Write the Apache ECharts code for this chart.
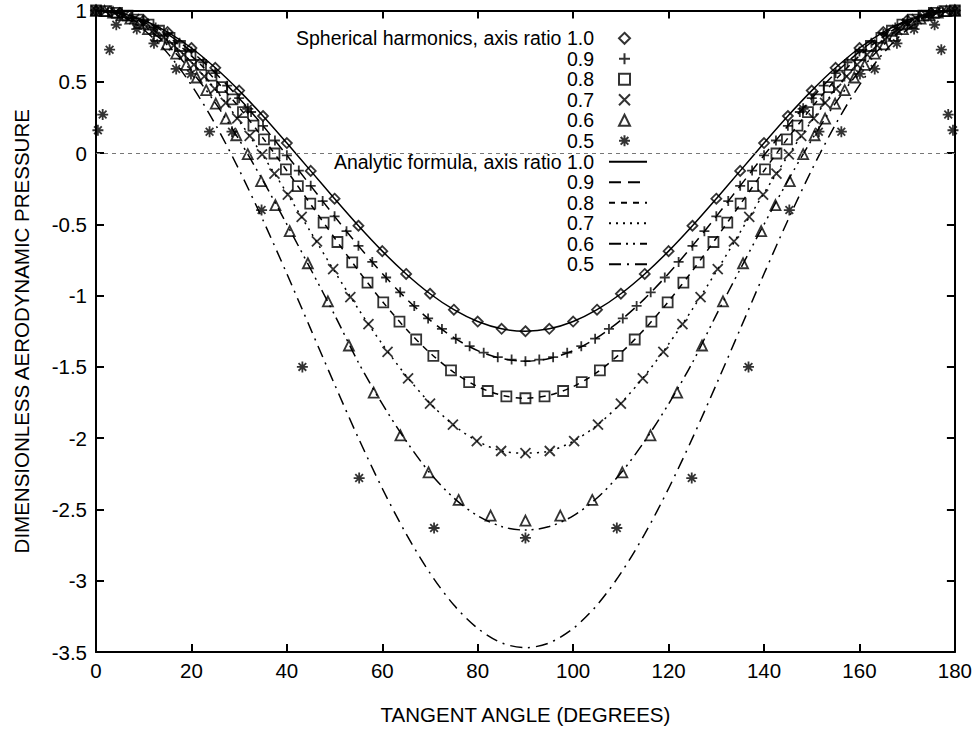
<!DOCTYPE html>
<html>
<head>
<meta charset="utf-8">
<script src="https://cdn.jsdelivr.net/npm/echarts/dist/echarts.min.js"></script>
<style>
  html, body { margin: 0; padding: 0; background: #fff; }
  #chart { width: 975px; height: 733px; }
</style>
</head>
<body>
<div id="chart"></div>
<script>
// tangent angles used for the analytic curves (degrees)
const angles = [0, 5, 10, 15, 20, 25, 30, 35, 40, 45, 50, 55, 60, 65, 70, 75, 80, 85, 90,
  95, 100, 105, 110, 115, 120, 125, 130, 135, 140, 145, 150, 155, 160, 165, 170, 175, 180]

// analytic formula, one array per axis ratio
const curve10 = [1, 0.983, 0.932, 0.849, 0.737, 0.598, 0.438, 0.260, 0.070, -0.125, -0.320, -0.510, -0.688, -0.848, -0.987, -1.099, -1.182, -1.233, -1.25,
  -1.233, -1.182, -1.099, -0.987, -0.848, -0.688, -0.510, -0.320, -0.125, 0.070, 0.260, 0.438, 0.598, 0.737, 0.849, 0.932, 0.983, 1]
const curve09 = [1, 0.981, 0.926, 0.835, 0.712, 0.561, 0.385, 0.191, -0.016, -0.230, -0.444, -0.651, -0.845, -1.021, -1.172, -1.295, -1.386, -1.441, -1.46,
  -1.441, -1.386, -1.295, -1.172, -1.021, -0.845, -0.651, -0.444, -0.230, -0.016, 0.191, 0.385, 0.561, 0.712, 0.835, 0.926, 0.981, 1]
const curve08 = [1, 0.979, 0.918, 0.818, 0.682, 0.514, 0.320, 0.105, -0.124, -0.360, -0.596, -0.825, -1.040, -1.234, -1.402, -1.538, -1.638, -1.699, -1.72,
  -1.699, -1.638, -1.538, -1.402, -1.234, -1.040, -0.825, -0.596, -0.360, -0.124, 0.105, 0.320, 0.514, 0.682, 0.818, 0.918, 0.979, 1]
const curve07 = [1, 0.976, 0.907, 0.792, 0.637, 0.446, 0.225, -0.020, -0.281, -0.555, -0.830, -1.095, -1.340, -1.562, -1.755, -1.910, -2.022, -2.090, -2.105,
  -2.090, -2.022, -1.910, -1.755, -1.562, -1.340, -1.095, -0.830, -0.555, -0.281, -0.020, 0.225, 0.446, 0.637, 0.792, 0.907, 0.976, 1]
const curve06 = [1, 0.972, 0.891, 0.757, 0.575, 0.352, 0.093, -0.194, -0.500, -0.815, -1.135, -1.470, -1.760, -2.020, -2.245, -2.420, -2.545, -2.620, -2.645,
  -2.620, -2.545, -2.420, -2.245, -2.020, -1.760, -1.470, -1.135, -0.815, -0.500, -0.194, 0.093, 0.352, 0.575, 0.757, 0.891, 0.972, 1]
const curve05 = [1, 0.966, 0.865, 0.701, 0.477, 0.202, -0.118, -0.471, -0.847, -1.235, -1.623, -2.000, -2.353, -2.672, -2.947, -3.171, -3.335, -3.436, -3.47,
  -3.436, -3.335, -3.171, -2.947, -2.672, -2.353, -2.000, -1.623, -1.235, -0.847, -0.471, -0.118, 0.202, 0.477, 0.701, 0.865, 0.966, 1]

// spherical harmonics points
const sh10X = angles
const sh10Y = [1, 0.983, 0.932, 0.849, 0.737, 0.598, 0.438, 0.260, 0.070, -0.125, -0.320, -0.510, -0.688, -0.848, -0.987, -1.099, -1.182, -1.233, -1.25,
  -1.233, -1.182, -1.099, -0.987, -0.848, -0.688, -0.510, -0.320, -0.125, 0.070, 0.260, 0.438, 0.598, 0.737, 0.849, 0.932, 0.983, 1]

const sh09X = [0, 2.5, 5, 7.5, 10, 12.5, 15, 17.5, 20, 22.5, 25, 27.5, 30, 32.5, 35, 37.5, 40, 42.5, 45, 47.5, 50, 52.5, 55,
  57.9, 60.8, 63.75, 66.7, 69.6, 72.5, 75.4, 78.3, 81.25, 84.2, 87.1, 90,
  92.9, 95.8, 98.75, 101.7, 104.6, 107.5, 110.4, 113.3, 116.25, 119.2, 122.1, 125,
  127.5, 130, 132.5, 135, 137.5, 140, 142.5, 145, 147.5, 150, 152.5, 155, 157.5, 160, 162.5, 165, 167.5, 170, 172.5, 175, 177.5, 180]
const sh09Y = [1, 0.99, 0.981, 0.954, 0.926, 0.881, 0.835, 0.774, 0.712, 0.637, 0.561, 0.473, 0.385, 0.288, 0.191, 0.088, -0.016, -0.123, -0.230, -0.337, -0.444, -0.548, -0.651,
  -0.764, -0.873, -0.977, -1.072, -1.160, -1.234, -1.302, -1.355, -1.400, -1.432, -1.449, -1.46,
  -1.449, -1.432, -1.400, -1.355, -1.302, -1.234, -1.160, -1.072, -0.977, -0.873, -0.764, -0.651,
  -0.548, -0.444, -0.337, -0.230, -0.123, -0.016, 0.088, 0.191, 0.288, 0.385, 0.473, 0.561, 0.637, 0.712, 0.774, 0.835, 0.881, 0.926, 0.954, 0.981, 0.99, 1]

const sh08X = [0, 2.2, 4.4, 6.6, 8.8, 11, 13.2, 15.4, 17.6, 19.8, 22, 24.2, 26.4, 28.6, 30.8, 33, 35.2, 37.4, 39.8, 42.3, 44.9,
  47.7, 50.6, 53.7, 56.9, 60.2, 63.6, 67.1, 70.7, 74.4, 78.2, 82.1, 86, 90,
  94, 97.9, 101.8, 105.6, 109.3, 112.9, 116.4, 119.8, 123.1, 126.3, 129.4, 132.3, 135.1, 137.7, 140.2, 142.6, 144.8,
  147, 149.2, 151.4, 153.6, 155.8, 158, 160.2, 162.4, 164.6, 166.8, 169, 171.2, 173.4, 175.6, 177.8, 180]
const sh08Y = [1, 0.995, 0.984, 0.964, 0.936, 0.901, 0.858, 0.808, 0.751, 0.688, 0.618, 0.543, 0.462, 0.377, 0.287, 0.193, 0.096, -0.003, -0.114, -0.232, -0.355,
  -0.488, -0.624, -0.767, -0.909, -1.048, -1.182, -1.308, -1.423, -1.524, -1.607, -1.669, -1.707, -1.72,
  -1.707, -1.669, -1.607, -1.524, -1.423, -1.308, -1.182, -1.048, -0.909, -0.767, -0.624, -0.488, -0.355, -0.232, -0.114, -0.003, 0.096,
  0.193, 0.287, 0.377, 0.462, 0.543, 0.618, 0.688, 0.751, 0.808, 0.858, 0.901, 0.936, 0.964, 0.984, 0.995, 1]

const sh07X = [0, 2, 4, 6, 8, 10, 12.1, 14.2, 16.3, 18.4, 20.5, 22.7, 24.9, 27.2, 29.6, 32.2, 34.8, 37.4, 40.2, 43.1, 46.3,
  49.7, 53.3, 57.1, 61.1, 65.4, 70, 74.8, 79.8, 84.9, 90,
  95.1, 100.2, 105.2, 110, 114.6, 118.9, 122.9, 126.7, 130.3, 133.7, 136.9, 139.8, 142.6, 145.2, 147.8,
  150.4, 152.8, 155.1, 157.3, 159.5, 161.6, 163.7, 165.8, 167.9, 170, 172, 174, 176, 178, 180]
const sh07Y = [1, 0.996, 0.985, 0.966, 0.940, 0.907, 0.864, 0.813, 0.756, 0.691, 0.620, 0.538, 0.450, 0.352, 0.244, 0.120, -0.010, -0.144, -0.292, -0.447, -0.620,
  -0.815, -1.010, -1.200, -1.395, -1.580, -1.757, -1.905, -2.020, -2.090, -2.105,
  -2.090, -2.020, -1.905, -1.757, -1.580, -1.395, -1.200, -1.010, -0.815, -0.620, -0.447, -0.292, -0.144, -0.010, 0.120,
  0.244, 0.352, 0.450, 0.538, 0.620, 0.691, 0.756, 0.813, 0.864, 0.907, 0.940, 0.966, 0.985, 0.996, 1]

const sh06X = [0, 1.8, 3.6, 5.4, 7.2, 9, 10.9, 12.8, 14.8, 16.8, 18.9, 21.1, 23.1, 25.1, 27.2, 29.4, 31.8, 34.6, 37.6, 40.6,
  44.4, 48.6, 53, 58.2, 63.8, 69.7, 76, 82.7, 90,
  97.3, 104, 110.3, 116.2, 121.8, 127, 131.4, 135.6, 139.4, 142.4, 145.4, 148.2, 150.6, 152.8, 154.9,
  156.9, 158.9, 161.1, 163.2, 165.2, 167.2, 169.1, 171, 172.8, 174.6, 176.4, 178.2, 180]
const sh06Y = [1, 0.996, 0.986, 0.968, 0.943, 0.911, 0.870, 0.822, 0.763, 0.697, 0.619, 0.530, 0.441, 0.347, 0.242, 0.125, -0.008, -0.197, -0.365, -0.547,
  -0.773, -1.04, -1.35, -1.68, -1.98, -2.24, -2.433, -2.543, -2.578,
  -2.543, -2.433, -2.24, -1.98, -1.68, -1.35, -1.04, -0.773, -0.547, -0.365, -0.197, -0.008, 0.125, 0.242, 0.347,
  0.441, 0.530, 0.619, 0.697, 0.763, 0.822, 0.870, 0.911, 0.943, 0.968, 0.986, 0.996, 1]

const sh05X = [0.4, 1.4, 2.85, 4.25, 8.55, 12.15, 16.8, 19.9, 23.8, 28.5, 31.8, 34.7, 43.25, 55.15, 70.85, 90,
  109.15, 124.85, 136.75, 145.3, 148.2, 151.5, 156.2, 160.1, 163.2, 167.85, 171.45, 175.75, 177.15, 178.6, 179.6]
const sh05Y = [0.16, 0.27, 0.725, 0.90, 0.87, 0.77, 0.59, 0.555, 0.15, 0.15, 0.31, -0.40, -1.5, -2.28, -2.63, -2.70,
  -2.63, -2.28, -1.5, -0.40, 0.31, 0.15, 0.15, 0.555, 0.59, 0.77, 0.87, 0.90, 0.725, 0.27, 0.16]

const legendLabels = {
  sh10: 'Spherical harmonics, axis ratio 1.0', sh09: '0.9', sh08: '0.8', sh07: '0.7', sh06: '0.6', sh05: '0.5',
  af10: 'Analytic formula, axis ratio 1.0', af09: '0.9', af08: '0.8', af07: '0.7', af06: '0.6', af05: '0.5',
}

const FONT = 'Liberation Sans, Arial, Helvetica, sans-serif'

const pairs = (xs, ys) => xs.map((x, i) => [x, ys[i]])

function curve(name, ys, dash) {
  return {
    name,
    type: 'line',
    data: pairs(angles, ys),
    symbol: 'none',
    showSymbol: false,
    smooth: 0.3,
    lineStyle: { color: '#000', width: 1.5, type: dash },
    itemStyle: { color: '#000' },
    z: 2,
  }
}

function points(name, xs, ys, symbol, size) {
  return {
    name,
    type: 'scatter',
    data: pairs(xs, ys),
    symbol,
    symbolSize: size,
    itemStyle: { color: 'rgba(0,0,0,0)', borderColor: '#000', borderWidth: 1.8 },
    z: 3,
  }
}

const PLUS = 'path://M5 0V10M0 5H10'
const CROSS = 'path://M0 0L10 10M0 10L10 0'
const STAR = 'path://M5 0V10M0 5H10M1.5 1.5L8.5 8.5M1.5 8.5L8.5 1.5'

const chart = echarts.init(document.getElementById('chart'), null, { renderer: 'svg' })

const axisLine = { onZero: false, lineStyle: { color: '#000', width: 2 } }
const axisTick = { inside: true, length: 8, lineStyle: { color: '#000', width: 2 } }
const labelStyle = { color: '#000', fontSize: 20.5, fontFamily: FONT }
const legendText = { color: '#000', fontSize: 19.5, fontFamily: FONT }
const hiddenSymbol = { color: 'rgba(0,0,0,0)', borderWidth: 0 }

const afBase = curve('af10', curve10, 'solid')
afBase.markLine = {
  silent: true,
  symbol: ['none', 'none'],
  label: { show: false },
  lineStyle: { color: '#777', width: 1, type: [4, 4] },
  data: [{ yAxis: 0 }],
}

chart.setOption({
  animation: false,
  backgroundColor: '#fff',
  textStyle: { fontFamily: FONT },
  grid: { left: 96, right: 18, top: 8, bottom: 81 },
  legend: [
    {
      orient: 'vertical',
      align: 'right',
      right: 339,
      top: 23.3,
      itemWidth: 11,
      itemHeight: 11,
      itemGap: 0.5,
      selectedMode: false,
      data: ['sh10', 'sh09', 'sh08', 'sh07', 'sh06', 'sh05'],
      formatter: name => legendLabels[name],
      textStyle: { ...legendText, padding: [0, 20, 0, 0] },
    },
    {
      orient: 'vertical',
      align: 'right',
      right: 322,
      top: 146.7,
      itemWidth: 38,
      itemHeight: 11,
      itemGap: 0.5,
      selectedMode: false,
      data: ['af10', 'af09', 'af08', 'af07', 'af06', 'af05'].map(name => ({ name, itemStyle: hiddenSymbol })),
      formatter: name => legendLabels[name],
      textStyle: { ...legendText, padding: [0, 10, 0, 0] },
    },
  ],
  xAxis: [
    {
      type: 'value', min: 0, max: 180, interval: 20, position: 'bottom',
      axisLine, axisTick, splitLine: { show: false },
      axisLabel: { ...labelStyle, margin: 8 },
      name: 'TANGENT ANGLE (DEGREES)', nameLocation: 'middle', nameGap: 52,
      nameTextStyle: { color: '#000', fontSize: 20.5, fontFamily: FONT },
    },
    {
      type: 'value', min: 0, max: 180, interval: 20, position: 'top',
      axisLine, axisTick, splitLine: { show: false }, axisLabel: { show: false },
    },
  ],
  yAxis: [
    {
      type: 'value', min: -3.5, max: 1, interval: 0.5, position: 'left',
      axisLine, axisTick, splitLine: { show: false },
      axisLabel: { ...labelStyle, margin: 9 },
      name: 'DIMENSIONLESS AERODYNAMIC PRESSURE', nameLocation: 'middle', nameGap: 64,
      nameTextStyle: { color: '#000', fontSize: 20.5, fontFamily: FONT },
    },
    {
      type: 'value', min: -3.5, max: 1, interval: 0.5, position: 'right',
      axisLine, axisTick, splitLine: { show: false }, axisLabel: { show: false },
    },
  ],
  series: [
    afBase,
    curve('af09', curve09, [12, 7]),
    curve('af08', curve08, [6, 6]),
    curve('af07', curve07, [2, 5]),
    curve('af06', curve06, [12, 5, 2, 5, 2, 5]),
    curve('af05', curve05, [12, 6, 2, 6]),
    points('sh10', sh10X, sh10Y, 'diamond', 10),
    points('sh09', sh09X, sh09Y, PLUS, 10),
    points('sh08', sh08X, sh08Y, 'rect', 10),
    points('sh07', sh07X, sh07Y, CROSS, 10),
    points('sh06', sh06X, sh06Y, 'triangle', 10),
    points('sh05', sh05X, sh05Y, STAR, 11),
  ],
})
</script>
</body>
</html>
